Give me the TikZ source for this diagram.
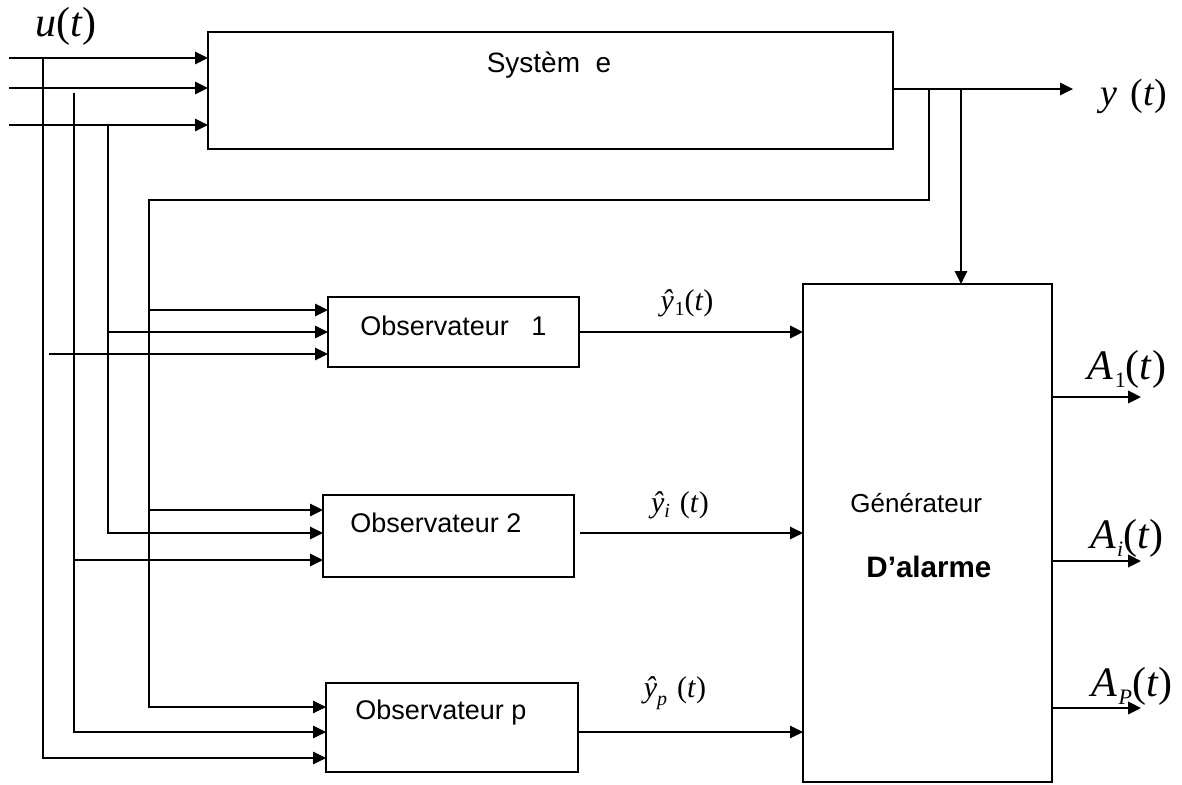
\documentclass[tikz,border=0pt]{standalone}
\usepackage{fontspec}
\setmainfont{Liberation Sans}
\newfontfamily\tms{Liberation Serif}
\usetikzlibrary{arrows.meta}
\begin{document}
\begin{tikzpicture}[x=0.5pt,y=-0.5pt,
  box/.style={draw, line width=0.6pt, inner sep=0pt, outer sep=0pt},
  ln/.style={line width=0.6pt},
  arr/.style={ln, -{Triangle[length=6.5pt,width=6.3pt]}},
  thk/.style={line width=1pt, -{Triangle[length=6.5pt,width=6.3pt]}},
  lbl/.style={font=\fontsize{13.5}{16}\selectfont, inner sep=0pt},
  mth/.style={inner sep=0pt}]
\useasboundingbox (0,0) rectangle (1182,784);
% boxes
\node[box, minimum width=342.5pt, minimum height=58.5pt] (sys) at (550.5,90.5) {};
\node[box, minimum width=125.5pt, minimum height=35pt] (obs1) at (453.5,332) {};
\node[box, minimum width=125.5pt, minimum height=41pt] (obs2) at (448.5,536) {};
\node[box, minimum width=126pt, minimum height=44.5pt] (obsp) at (452,727.5) {};
\node[box, minimum width=124.5pt, minimum height=249pt] (gen) at (927.5,533) {};
% box texts
\node[lbl, font=\fontsize{14}{16}\selectfont] (tsys) at (549,65) {Systèm\ \ e};
\node[lbl, anchor=west] (tobs1) at (360,326) {Observateur\ \ \ 1};
\node[lbl, anchor=west] (tobs2) at (350,523) {Observateur 2};
\node[lbl, anchor=west] (tobsp) at (355,712) {Observateur p};
\node[lbl, font=\fontsize{13}{15}\selectfont, anchor=west] (tgen) at (850,503) {Générateur};
\node[lbl, font=\fontsize{14.8}{16}\selectfont\bfseries, anchor=west] (talm) at (866,567) {D’alarme};
% inputs to system
\coordinate (in1) at (9,58);
\coordinate (in2) at (9,88);
\coordinate (in3) at (9,125);
\draw[arr] (in1) -- (sys.west |- in1);
\draw[arr] (in2) -- (sys.west |- in2);
\draw[arr] (in3) -- (sys.west |- in3);
% distribution of inputs to observers
\coordinate (b1) at (43,58);
\coordinate (c1) at (43,758);
\draw[arr] (b1) -- (c1) -- (obsp.west |- c1);
\coordinate (b2) at (74,93);
\coordinate (c2) at (74,732);
\draw[arr] (b2) -- (c2) -- (obsp.west |- c2);
\coordinate (d2) at (74,560);
\draw[arr] (d2) -- (obs2.west |- d2);
\coordinate (b3) at (108,125);
\coordinate (c3) at (108,533);
\draw[arr] (b3) -- (c3) -- (obs2.west |- c3);
\coordinate (d3) at (108,332);
\draw[arr] (d3) -- (obs1.west |- d3);
\coordinate (g1) at (49,354);
\draw[arr] (g1) -- (obs1.west |- g1);
% system output and feedback
\coordinate (yout) at (1073,89);
\draw[arr] (sys.east |- yout) -- (yout);
\coordinate (f0) at (929,89);
\coordinate (f1) at (929,200);
\coordinate (f2) at (149,200);
\coordinate (f3) at (149,707);
\draw[arr] (f0) -- (f1) -- (f2) -- (f3) -- (obsp.west |- f3);
\coordinate (e1) at (149,310);
\draw[arr] (e1) -- (obs1.west |- e1);
\coordinate (e2) at (149,510);
\draw[arr] (e2) -- (obs2.west |- e2);
\coordinate (s2) at (961,89);
\draw[arr] (s2) -- (gen.north -| s2);
% observer outputs
\draw[thk] (obs1.east) -- (gen.west |- obs1.east);
\coordinate (o2) at (580,533);
\draw[arr] (o2) -- (gen.west |- o2);
\coordinate (op) at (578,732);
\draw[arr] (obsp.east |- op) -- (gen.west |- op);
% alarm outputs
\coordinate (a1) at (1141,397);
\coordinate (a2) at (1141,561);
\coordinate (a3) at (1141,708);
\draw[thk] (gen.east |- a1) -- (a1);
\draw[thk] (gen.east |- a2) -- (a2);
\draw[thk] (gen.east |- a3) -- (a3);
% math labels
\node[mth, font=\tms\fontsize{21}{23}\selectfont] (lu) at (66,26) {\textit{u}(\textit{t})};
\node[mth, font=\tms\fontsize{19}{21}\selectfont] (ly) at (1134,96) {\textit{y}\,\,(\textit{t})};
\node[mth, font=\tms\fontsize{15}{17}\selectfont] (ly1) at (687,303) {\textit{ŷ}\kern0.02em\raisebox{-0.35ex}{\fontsize{10}{11}\selectfont 1}(\textit{t})};
\node[mth, font=\tms\fontsize{15}{17}\selectfont] (lyi) at (680,505) {\textit{ŷ}\raisebox{-0.4ex}{\fontsize{10}{11}\selectfont\textit{i}}\,\,(\textit{t})};
\node[mth, font=\tms\fontsize{15}{17}\selectfont] (lyp) at (675,693) {\textit{ŷ}\raisebox{-0.6ex}{\fontsize{10}{11}\selectfont\textit{p}}\,\,(\textit{t})};
\node[mth, font=\tms\fontsize{21}{23}\selectfont] (lA1) at (1127,369) {\textit{A}\kern0.03em\raisebox{-0.45ex}{\fontsize{11}{12}\selectfont 1}(\textit{t})};
\node[mth, font=\tms\fontsize{21}{23}\selectfont] (lAi) at (1127,538) {\textit{A}\kern0.03em\raisebox{-0.45ex}{\fontsize{11}{12}\selectfont\textit{i}}(\textit{t})};
\node[mth, font=\tms\fontsize{21}{23}\selectfont] (lAp) at (1132,686) {\textit{A}\kern0.03em\raisebox{-0.45ex}{\fontsize{11}{12}\selectfont\textit{P}}(\textit{t})};
\end{tikzpicture}
\end{document}
